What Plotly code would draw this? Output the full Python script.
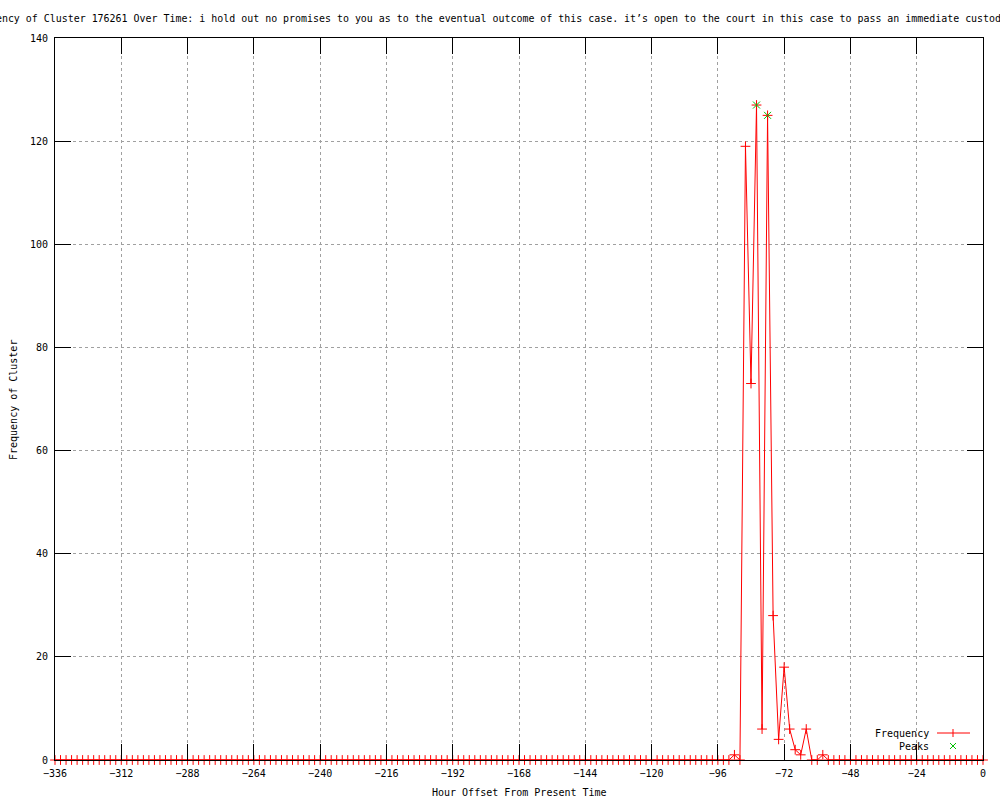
import plotly.graph_objects as go

# ---- data ----
hours = list(range(-336, 2, 2))  # -336 .. 0, every 2 hours
frequency = [
    0, 0, 0, 0, 0, 0, 0, 0, 0, 0, 0, 0, 0, 0, 0, 0, 0, 0, 0, 0,   # -336 .. -298
    0, 0, 0, 0, 0, 0, 0, 0, 0, 0, 0, 0, 0, 0, 0, 0, 0, 0, 0, 0,   # -296 .. -258
    0, 0, 0, 0, 0, 0, 0, 0, 0, 0, 0, 0, 0, 0, 0, 0, 0, 0, 0, 0,   # -256 .. -218
    0, 0, 0, 0, 0, 0, 0, 0, 0, 0, 0, 0, 0, 0, 0, 0, 0, 0, 0, 0,   # -216 .. -178
    0, 0, 0, 0, 0, 0, 0, 0, 0, 0, 0, 0, 0, 0, 0, 0, 0, 0, 0, 0,   # -176 .. -138
    0, 0, 0, 0, 0, 0, 0, 0, 0, 0, 0, 0, 0, 0, 0, 0, 0, 0, 0, 0,   # -136 .. -98
    0, 0, 0, 1, 0, 119, 73, 127, 6, 125, 28, 4, 18, 6, 2, 1, 6, 0, 0, 1,  # -96 .. -58
    0, 0, 0, 0, 0, 0, 0, 0, 0, 0, 0, 0, 0, 0, 0, 0, 0, 0, 0, 0,   # -56 .. -18
    0, 0, 0, 0, 0, 0, 0, 0, 0,                                    # -16 .. 0
]
peak_hours = [-82, -78]
peak_values = [127, 125]

x_ticks = list(range(-336, 1, 24))
y_ticks = list(range(0, 141, 20))

title_text = ("Frequency of Cluster 176261 Over Time: i hold out no promises to you as to the "
              "eventual outcome of this case. it\u2019s open to the court in this case to pass an "
              "immediate custod")

FONT = "DejaVu Sans Mono"
RED = "#ff0000"
GREEN = "#00c000"

fig = go.Figure()
fig.add_trace(go.Scatter(
    x=hours, y=frequency, mode="lines+markers", name="Frequency",
    line=dict(color=RED, width=1),
    marker=dict(symbol="cross-thin", size=7, line=dict(color=RED, width=1)),
    cliponaxis=False, showlegend=False,
))
fig.add_trace(go.Scatter(
    x=peak_hours, y=peak_values, mode="markers", name="Peaks",
    marker=dict(symbol="x-thin", size=7, line=dict(color=GREEN, width=1)),
    cliponaxis=False, showlegend=False,
))

L, R, T, B = 55, 17, 38, 40
PW, PH = 1000 - L - R, 800 - T - B

def px(xp):
    return (xp - L) / PW

def py(yp):
    return (800 - B - yp) / PH

axis_common = dict(
    showline=True, linecolor="black", linewidth=1, mirror="ticks",
    ticks="inside", ticklen=16, tickcolor="black", tickwidth=1,
    showgrid=True, gridcolor="#a0a0a0", griddash="3px,3px", gridwidth=1,
    zeroline=False, tickfont=dict(family=FONT, size=10, color="black"),
    layer="above traces",
)

fig.update_layout(
    width=1000, height=800, autosize=False,
    margin=dict(l=L, r=R, t=T, b=B),
    paper_bgcolor="white", plot_bgcolor="white",
    font=dict(family=FONT, size=10, color="black"),
    xaxis=dict(range=[-336, 0], tickvals=x_ticks,
               ticktext=[str(v).replace("-", "\u2212") for v in x_ticks],
               ticklabelstandoff=4, **axis_common),
    yaxis=dict(range=[0, 140], tickvals=y_ticks, ticklabelstandoff=4, **axis_common),
    showlegend=False,
)

ann = []
ann.append(dict(text=title_text, xref="paper", yref="paper", x=px(-36), y=py(19),
                xanchor="left", yanchor="middle", showarrow=False,
                font=dict(family=FONT, size=9.95, color="black")))
ann.append(dict(text="Hour Offset From Present Time", xref="paper", yref="paper", x=0.5, y=py(793),
                xanchor="center", yanchor="middle", showarrow=False,
                font=dict(family=FONT, size=10, color="black")))
ann.append(dict(text="Frequency of Cluster", xref="paper", yref="paper", x=px(13), y=py(400),
                xanchor="center", yanchor="middle", textangle=-90, showarrow=False,
                font=dict(family=FONT, size=10, color="black")))
ann.append(dict(text="Frequency", xref="paper", yref="paper", x=px(931), y=py(733),
                xanchor="right", yanchor="middle", showarrow=False,
                font=dict(family=FONT, size=10, color="black")))
ann.append(dict(text="Peaks", xref="paper", yref="paper", x=px(931), y=py(746),
                xanchor="right", yanchor="middle", showarrow=False,
                font=dict(family=FONT, size=10, color="black")))
fig.update_layout(annotations=ann)

# legend samples (decorative)
shapes = [
    dict(type="line", xref="paper", yref="paper", x0=px(937), x1=px(970), y0=py(733), y1=py(733),
         line=dict(color=RED, width=1)),
    dict(type="line", xref="paper", yref="paper", x0=px(953), x1=px(953), y0=py(729), y1=py(737),
         line=dict(color=RED, width=1)),
    dict(type="line", xref="paper", yref="paper", x0=px(950), x1=px(956), y0=py(743), y1=py(749),
         line=dict(color=GREEN, width=1)),
    dict(type="line", xref="paper", yref="paper", x0=px(950), x1=px(956), y0=py(749), y1=py(743),
         line=dict(color=GREEN, width=1)),
]
fig.update_layout(shapes=shapes)

fig.write_html("out.html", config={"displayModeBar": False},
               post_script="document.body.style.margin='0';document.body.style.overflow='hidden';")
